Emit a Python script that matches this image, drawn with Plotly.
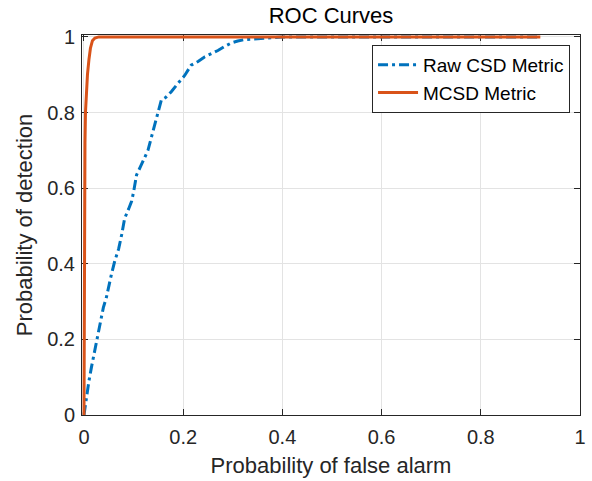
import plotly.graph_objects as go

# Raw CSD metric ROC (blue, dash-dot)
raw_pfa = [0, 0.003, 0.006, 0.01, 0.015, 0.02, 0.025, 0.032, 0.039, 0.045, 0.049, 0.055, 0.062,
           0.07, 0.076, 0.082, 0.09, 0.096, 0.1, 0.106, 0.115, 0.122, 0.129, 0.136, 0.143,
           0.15, 0.156, 0.165, 0.176, 0.19, 0.203, 0.216, 0.23, 0.243, 0.257, 0.27, 0.284,
           0.297, 0.31, 0.324, 0.35, 0.378, 0.4, 0.5, 0.6, 0.7, 0.8, 0.92]
raw_pd = [0, 0.03, 0.06, 0.09, 0.126, 0.16, 0.197, 0.24, 0.284, 0.31, 0.337, 0.37, 0.407,
          0.44, 0.477, 0.52, 0.545, 0.565, 0.59, 0.635, 0.66, 0.68, 0.70, 0.735, 0.767,
          0.80, 0.833, 0.84, 0.855, 0.878, 0.898, 0.925, 0.935, 0.947, 0.955, 0.964, 0.975,
          0.984, 0.989, 0.993, 0.995, 0.997, 1.0, 1, 1, 1, 1, 1]

# MCSD metric ROC (orange, solid)
mcsd_pfa = [0, 0.0005, 0.001, 0.002, 0.003, 0.005, 0.007, 0.01, 0.013, 0.017, 0.022, 0.03, 0.05, 0.92]
mcsd_pd = [0, 0.3, 0.55, 0.72, 0.8, 0.86, 0.9, 0.94, 0.97, 0.99, 0.997, 1, 1, 1]

x_ticks = [0, 0.2, 0.4, 0.6, 0.8, 1]
x_ticklabels = ["0", "0.2", "0.4", "0.6", "0.8", "1"]
y_ticks = [0, 0.2, 0.4, 0.6, 0.8, 1]
y_ticklabels = ["0", "0.2", "0.4", "0.6", "0.8", "1"]

FONT = "Liberation Sans, Arial, sans-serif"
AX = "#262626"
GRID = "#e3e3e3"

fig = go.Figure()
fig.add_trace(go.Scatter(x=raw_pfa, y=raw_pd, mode="lines", name="Raw CSD Metric",
                         line=dict(color="#0072BD", width=3, dash="10px,4px,3px,4px")))
fig.add_trace(go.Scatter(x=mcsd_pfa, y=mcsd_pd, mode="lines", name="MCSD Metric",
                         line=dict(color="#D95319", width=3)))

axis_common = dict(showline=True, linecolor=AX, linewidth=1, mirror="ticks",
                   ticks="inside", ticklen=6, tickwidth=1, tickcolor=AX,
                   showgrid=True, gridcolor=GRID, gridwidth=1, zeroline=False,
                   tickfont=dict(family=FONT, size=20, color=AX),
                   layer="below traces", automargin=False)

fig.update_layout(
    width=592, height=481,
    margin=dict(l=82, r=12, t=35, b=66),
    paper_bgcolor="white", plot_bgcolor="white",
    font=dict(family=FONT, color=AX),
    title=dict(text="ROC Curves", x=(82 + 580) / 2 / 592, xanchor="center",
               y=1 - 15 / 481, yanchor="middle", yref="container",
               font=dict(family=FONT, size=22, color="black")),
    xaxis=dict(range=[-0.004, 1], tickvals=x_ticks, ticktext=x_ticklabels,
               ticklabelstandoff=4,
               title=dict(text="Probability of false alarm", font=dict(family=FONT, size=22, color=AX),
                          standoff=10),
               **axis_common),
    yaxis=dict(range=[0, 1.005], tickvals=y_ticks, ticktext=y_ticklabels,
               ticklabelstandoff=2,
               title=dict(text="Probability of detection", font=dict(family=FONT, size=22, color=AX),
                          standoff=8),
               **axis_common),
    legend=dict(x=0.98, xanchor="right", y=0.974, yanchor="top",
                bgcolor="white", bordercolor=AX, borderwidth=1,
                font=dict(family=FONT, size=19, color="black"),
                tracegroupgap=0, itemwidth=40),
    showlegend=True,
)

fig.write_html("out.html")
